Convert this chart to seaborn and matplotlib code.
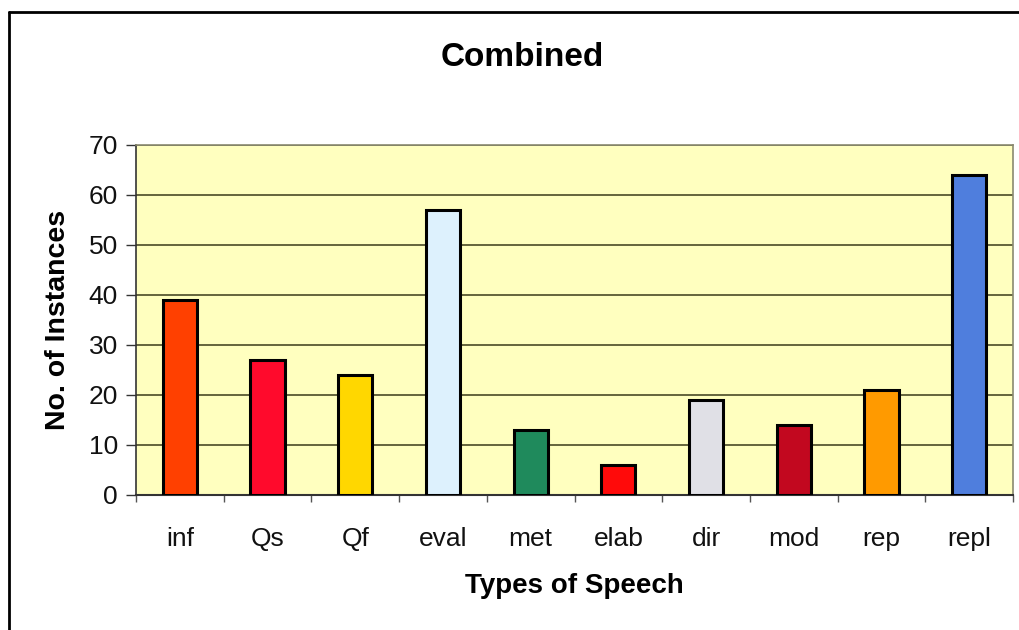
import matplotlib
matplotlib.use("Agg")
import matplotlib.pyplot as plt
import numpy as np
import pandas as pd
import seaborn as sns
from matplotlib.lines import Line2D

categories = ["inf", "Qs", "Qf", "eval", "met", "elab", "dir", "mod", "rep", "repl"]
values = [39, 27, 24, 57, 13, 6, 19, 14, 21, 64]
bar_colors = ["#FF4000", "#FF0A2C", "#FFD700", "#DDF1FD", "#1F8A5C",
              "#FF0A0A", "#E0E0E6", "#C2081F", "#FF9A00", "#4F7EDD"]
y_ticks = [0, 10, 20, 30, 40, 50, 60, 70]
title = "Combined"
x_label = "Types of Speech"
y_label = "No. of Instances"

sns.set_theme(style="white")
plt.rcParams['font.family'] = ['Liberation Sans', 'DejaVu Sans']

df = pd.DataFrame({"cat": categories, "val": values})

W, H = 1020, 630
fig = plt.figure(figsize=(W / 100, H / 100), dpi=100)
fig.patch.set_facecolor("white")
ax = fig.add_axes([136 / W, 1 - 495 / H, 877 / W, 350 / H])
ax.set_facecolor("#FFFFBF")

sns.barplot(data=df, x="cat", y="val", hue="cat", palette=bar_colors,
            legend=False, width=0.39, edgecolor="black", linewidth=2.2,
            saturation=1, ax=ax, zorder=3)

ax.set_ylim(0, 70)
ax.set_xlim(-0.5, len(categories) - 0.5)
ax.set_yticks(y_ticks)
ax.set_yticklabels([str(t) for t in y_ticks])
ax.yaxis.grid(True, color="#3A3A18", linewidth=1.1, zorder=1)
ax.xaxis.grid(False)
ax.set_axisbelow(True)

# ticks
ax.tick_params(axis="y", which="major", direction="out", length=7, width=1,
               color="#333333", labelsize=19, pad=6, labelcolor="#111111", left=True)
ax.tick_params(axis="x", which="major", length=0, labelsize=19, pad=23,
               labelcolor="#111111")
ax.set_xticks(np.arange(-0.5, len(categories), 1), minor=True)
ax.tick_params(axis="x", which="minor", direction="out", length=5, width=1,
               color="#555555", bottom=True)

for side in ["top", "right"]:
    ax.spines[side].set_color("#8A8A70")
    ax.spines[side].set_linewidth(1.2)
ax.spines["left"].set_color("#333333")
ax.spines["left"].set_linewidth(1.2)
ax.spines["bottom"].set_color("#333333")
ax.spines["bottom"].set_linewidth(1.5)

ax.set_xlabel(x_label, fontsize=20, fontweight="bold", color="black")
ax.set_ylabel(y_label, fontsize=20.5, fontweight="bold", color="black")
ax.xaxis.set_label_coords(0.5, (495 - 586) / 350)
ax.xaxis.label.set_va("center")
ax.yaxis.set_label_coords((58 - 136) / 877, 0.5)
ax.yaxis.label.set_va("center")

fig.text(522 / W, 1 - 57 / H, title, ha="center", va="center",
         fontsize=24, fontweight="bold", color="black")

# outer chart border (cropped at right and bottom)
fig.add_artist(Line2D([9 / W, 1.0], [1 - 12 / H, 1 - 12 / H],
                      transform=fig.transFigure, color="black", linewidth=2))
fig.add_artist(Line2D([9 / W, 9 / W], [1 - 12 / H, 0.0],
                      transform=fig.transFigure, color="black", linewidth=2))

fig.savefig("out.png", dpi=100, facecolor="white")
